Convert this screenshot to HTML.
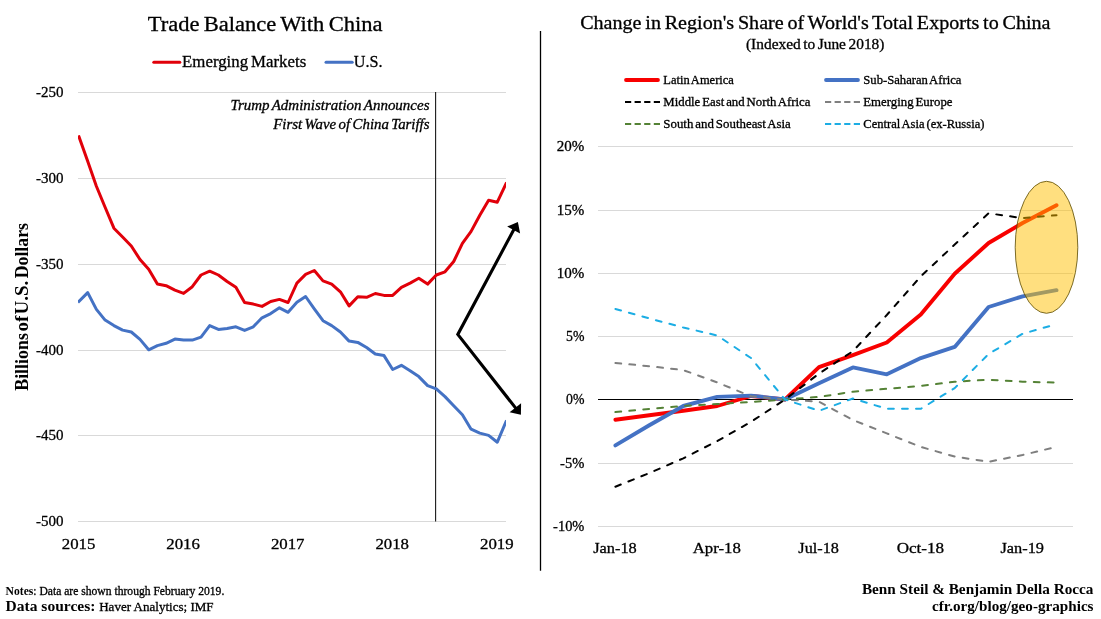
<!DOCTYPE html>
<html lang="en"><head><meta charset="utf-8"><title>Trade Balance With China</title>
<style>html,body{margin:0;padding:0;background:#fff}body{width:1101px;height:619px;overflow:hidden}svg{display:block}text{font-family:'Liberation Serif', serif;fill:#000;stroke:#000;stroke-width:.3px;word-spacing:-1.2px}.b{stroke-width:0}</style></head><body>
<svg width="1101" height="619" viewBox="0 0 1101 619">
<rect width="1101" height="619" fill="#fff"/>
<line x1="78" x2="506" y1="92.5" y2="92.5" stroke="#d9d9d9" stroke-width="1"/>
<line x1="78" x2="506" y1="178.5" y2="178.5" stroke="#d9d9d9" stroke-width="1"/>
<line x1="78" x2="506" y1="264.5" y2="264.5" stroke="#d9d9d9" stroke-width="1"/>
<line x1="78" x2="506" y1="350.5" y2="350.5" stroke="#d9d9d9" stroke-width="1"/>
<line x1="78" x2="506" y1="435.5" y2="435.5" stroke="#d9d9d9" stroke-width="1"/>
<line x1="78" x2="506" y1="521.5" y2="521.5" stroke="#d9d9d9" stroke-width="1"/>
<text x="63.6" y="97.4" font-size="15" text-anchor="end" textLength="27.5" lengthAdjust="spacingAndGlyphs" stroke-width="0.12">-250</text>
<text x="63.6" y="183.4" font-size="15" text-anchor="end" textLength="27.5" lengthAdjust="spacingAndGlyphs" stroke-width="0.12">-300</text>
<text x="63.6" y="269.4" font-size="15" text-anchor="end" textLength="27.5" lengthAdjust="spacingAndGlyphs" stroke-width="0.12">-350</text>
<text x="63.6" y="355.4" font-size="15" text-anchor="end" textLength="27.5" lengthAdjust="spacingAndGlyphs" stroke-width="0.12">-400</text>
<text x="63.6" y="440.4" font-size="15" text-anchor="end" textLength="27.5" lengthAdjust="spacingAndGlyphs" stroke-width="0.12">-450</text>
<text x="63.6" y="526.4" font-size="15" text-anchor="end" textLength="27.5" lengthAdjust="spacingAndGlyphs" stroke-width="0.12">-500</text>
<text x="78.6" y="548.8" font-size="15.4" text-anchor="middle" textLength="33.6" lengthAdjust="spacingAndGlyphs" stroke-width="0.10">2015</text>
<text x="183.1" y="548.8" font-size="15.4" text-anchor="middle" textLength="33.6" lengthAdjust="spacingAndGlyphs" stroke-width="0.10">2016</text>
<text x="287.7" y="548.8" font-size="15.4" text-anchor="middle" textLength="33.6" lengthAdjust="spacingAndGlyphs" stroke-width="0.10">2017</text>
<text x="392.2" y="548.8" font-size="15.4" text-anchor="middle" textLength="33.6" lengthAdjust="spacingAndGlyphs" stroke-width="0.10">2018</text>
<text x="496.8" y="548.8" font-size="15.4" text-anchor="middle" textLength="33.6" lengthAdjust="spacingAndGlyphs" stroke-width="0.10">2019</text>
<text x="147.8" y="30.8" font-size="20.8" textLength="234.7" lengthAdjust="spacingAndGlyphs" stroke-width="0.33">Trade Balance With China</text>
<line x1="153.8" x2="179.8" y1="62.3" y2="62.3" stroke="#e1000a" stroke-width="3" stroke-linecap="round"/>
<text x="182.1" y="66.6" font-size="17" textLength="124.1" lengthAdjust="spacingAndGlyphs" stroke-width="0.27">Emerging Markets</text>
<line x1="326" x2="352.2" y1="62.3" y2="62.3" stroke="#4472c4" stroke-width="3" stroke-linecap="round"/>
<text x="353.8" y="66.6" font-size="17" textLength="28.7" lengthAdjust="spacingAndGlyphs" stroke-width="0.27">U.S.</text>
<g transform="translate(28.1,390.8) rotate(-90)">
<text class="b" font-size="18.4" font-weight="bold" style="word-spacing:0"><tspan x="0" textLength="57.7" lengthAdjust="spacingAndGlyphs">Billions</tspan> <tspan x="59.3" textLength="15.9" lengthAdjust="spacingAndGlyphs">of</tspan> <tspan x="76.3" textLength="33.9" lengthAdjust="spacingAndGlyphs">U.S.</tspan> <tspan x="112.5" textLength="55.3" lengthAdjust="spacingAndGlyphs">Dollars</tspan></text>
</g>
<text x="429.5" y="109.7" font-size="13.9" text-anchor="end" textLength="199.1" lengthAdjust="spacingAndGlyphs" font-style="italic" stroke-width="0.05">Trump Administration Announces</text>
<text x="429.5" y="128.5" font-size="13.9" text-anchor="end" textLength="156.2" lengthAdjust="spacingAndGlyphs" font-style="italic" stroke-width="0.05">First Wave of China Tariffs</text>
<line x1="435.6" x2="435.6" y1="92" y2="521.5" stroke="#1a1a1a" stroke-width="1.1"/>
<clipPath id="lc"><rect x="78" y="90" width="428" height="433"/></clipPath><g clip-path="url(#lc)">
<polyline fill="none" stroke="#4472c4" stroke-width="3" stroke-linejoin="round" stroke-linecap="square" points="79.0,301.3 87.7,292.6 96.4,309.4 105.1,320.1 113.9,325.6 122.6,330.1 131.3,332.0 140.0,339.4 148.7,349.8 157.4,345.6 166.1,343.3 174.9,339.1 183.6,340.1 192.3,340.1 201.0,337.2 209.7,325.6 218.4,329.4 227.1,328.5 235.9,326.8 244.6,330.4 253.3,326.8 262.0,317.8 270.7,313.6 279.4,307.8 288.1,312.3 296.9,302.3 305.6,296.5 314.3,308.8 323.0,320.7 331.7,325.6 340.4,332.0 349.1,341.1 357.8,342.4 366.6,347.5 375.3,354.0 384.0,355.6 392.7,369.5 401.4,365.3 410.1,370.8 418.8,376.6 427.6,385.6 436.3,388.9 445.0,396.6 453.7,405.7 462.4,414.7 471.1,429.2 479.8,433.1 488.6,435.4 497.3,442.2 506.0,421.8"/>
<polyline fill="none" stroke="#e1000a" stroke-width="3" stroke-linejoin="round" stroke-linecap="square" points="79.0,136.8 87.7,161.3 96.4,186.2 105.1,207.2 113.9,228.2 122.6,237.0 131.3,246.0 140.0,259.5 148.7,269.2 157.4,284.1 166.1,285.7 174.9,290.2 183.6,293.4 192.3,286.7 201.0,275.0 209.7,271.2 218.4,275.0 227.1,281.5 235.9,287.3 244.6,302.5 253.3,304.1 262.0,306.4 270.7,301.5 279.4,299.4 288.1,302.5 296.9,283.1 305.6,274.4 314.3,270.5 323.0,280.9 331.7,284.1 340.4,291.8 349.1,305.9 357.8,296.7 366.6,297.3 375.3,293.5 384.0,295.4 392.7,295.4 401.4,287.3 410.1,283.1 418.8,278.3 427.6,284.1 436.3,275.0 445.0,271.8 453.7,261.5 462.4,243.4 471.1,231.4 479.8,215.3 488.6,200.3 497.3,202.2 506.0,183.8"/>
</g>
<polygon fill="#000" points="517.9,222.0 520.1,233.4 507.2,226.5"/>
<polygon fill="#000" points="520.9,414.8 509.6,412.2 521.1,403.2"/>
<polyline fill="none" stroke="#000" stroke-width="3.1" stroke-linejoin="miter" stroke-miterlimit="10" points="514.4,228.6 457.8,334.4 516.3,408.9"/>
<line x1="540.5" x2="540.5" y1="31" y2="570.8" stroke="#000" stroke-width="1.3"/>
<text x="5.6" y="594.6" font-size="11.6" textLength="218.7" lengthAdjust="spacingAndGlyphs" stroke-width="0.08" style="word-spacing:0"><tspan font-weight="bold" stroke-width="0">Notes</tspan>: Data are shown through February 2019.</text>
<text x="5.6" y="611.1" font-size="14.3" textLength="89.8" lengthAdjust="spacingAndGlyphs" font-weight="bold" class="b" style="word-spacing:0">Data sources:</text>
<text x="99.2" y="611.1" font-size="12.8" textLength="114.4" lengthAdjust="spacingAndGlyphs" style="word-spacing:0" stroke-width="0.10">Haver Analytics; IMF</text>
<line x1="598" x2="1073" y1="146.5" y2="146.5" stroke="#d9d9d9" stroke-width="1"/>
<line x1="598" x2="1073" y1="210.5" y2="210.5" stroke="#d9d9d9" stroke-width="1"/>
<line x1="598" x2="1073" y1="273.5" y2="273.5" stroke="#d9d9d9" stroke-width="1"/>
<line x1="598" x2="1073" y1="336.5" y2="336.5" stroke="#d9d9d9" stroke-width="1"/>
<line x1="598" x2="1073" y1="463.5" y2="463.5" stroke="#d9d9d9" stroke-width="1"/>
<line x1="598" x2="1073" y1="526.5" y2="526.5" stroke="#d9d9d9" stroke-width="1"/>
<text x="584.4" y="151.2" font-size="15" text-anchor="end" textLength="27.6" lengthAdjust="spacingAndGlyphs" stroke-width="0.12">20%</text>
<text x="584.4" y="215.2" font-size="15" text-anchor="end" textLength="27.6" lengthAdjust="spacingAndGlyphs" stroke-width="0.12">15%</text>
<text x="584.4" y="278.2" font-size="15" text-anchor="end" textLength="27.6" lengthAdjust="spacingAndGlyphs" stroke-width="0.12">10%</text>
<text x="584.4" y="341.2" font-size="15" text-anchor="end" textLength="18.4" lengthAdjust="spacingAndGlyphs" stroke-width="0.12">5%</text>
<text x="584.4" y="404.2" font-size="15" text-anchor="end" textLength="18.4" lengthAdjust="spacingAndGlyphs" stroke-width="0.12">0%</text>
<text x="584.4" y="468.2" font-size="15" text-anchor="end" textLength="24.3" lengthAdjust="spacingAndGlyphs" stroke-width="0.12">-5%</text>
<text x="584.4" y="531.2" font-size="15" text-anchor="end" textLength="31.3" lengthAdjust="spacingAndGlyphs" stroke-width="0.12">-10%</text>
<text x="615.0" y="552.9" font-size="15.4" text-anchor="middle" textLength="43.6" lengthAdjust="spacingAndGlyphs" stroke-width="0.08">Jan-18</text>
<text x="716.8" y="552.9" font-size="15.4" text-anchor="middle" textLength="48.2" lengthAdjust="spacingAndGlyphs" stroke-width="0.08">Apr-18</text>
<text x="818.6" y="552.9" font-size="15.4" text-anchor="middle" textLength="40.5" lengthAdjust="spacingAndGlyphs" stroke-width="0.08">Jul-18</text>
<text x="920.4" y="552.9" font-size="15.4" text-anchor="middle" textLength="47.5" lengthAdjust="spacingAndGlyphs" stroke-width="0.08">Oct-18</text>
<text x="1022.2" y="552.9" font-size="15.4" text-anchor="middle" textLength="43.6" lengthAdjust="spacingAndGlyphs" stroke-width="0.08">Jan-19</text>
<text x="580.2" y="28.7" font-size="19.5" textLength="470.3" lengthAdjust="spacingAndGlyphs" stroke-width="0.31">Change in Region's Share of World's Total Exports to China</text>
<text x="746.0" y="48.9" font-size="14.2" textLength="138.4" lengthAdjust="spacingAndGlyphs" stroke-width="0.23">(Indexed to June 2018)</text>
<line x1="626.0" x2="658.0" y1="80.0" y2="80.0" stroke="#f80000" stroke-width="3.8" stroke-linecap="round"/>
<text x="663.3" y="84.0" font-size="12.2" textLength="70.6" lengthAdjust="spacingAndGlyphs" stroke-width="0.14">Latin America</text>
<line x1="625.0" x2="660.2" y1="102.0" y2="102.0" stroke="#000000" stroke-width="2" stroke-dasharray="6.2 3.4"/>
<text x="663.3" y="106.0" font-size="12.2" textLength="147.1" lengthAdjust="spacingAndGlyphs" stroke-width="0.14">Middle East and North Africa</text>
<line x1="625.0" x2="660.2" y1="124.0" y2="124.0" stroke="#548235" stroke-width="2" stroke-dasharray="6.2 3.4"/>
<text x="663.3" y="127.6" font-size="12.2" textLength="127.5" lengthAdjust="spacingAndGlyphs" stroke-width="0.14">South and Southeast Asia</text>
<line x1="826.0" x2="858.0" y1="80.0" y2="80.0" stroke="#4472c4" stroke-width="3.8" stroke-linecap="round"/>
<text x="863.3" y="84.0" font-size="12.2" textLength="98.1" lengthAdjust="spacingAndGlyphs" stroke-width="0.14">Sub-Saharan Africa</text>
<line x1="825.0" x2="860.2" y1="102.0" y2="102.0" stroke="#7f7f7f" stroke-width="2" stroke-dasharray="6.2 3.4"/>
<text x="863.3" y="106.0" font-size="12.2" textLength="89.2" lengthAdjust="spacingAndGlyphs" stroke-width="0.14">Emerging Europe</text>
<line x1="825.0" x2="860.2" y1="124.0" y2="124.0" stroke="#1cade4" stroke-width="2" stroke-dasharray="6.2 3.4"/>
<text x="863.3" y="127.6" font-size="12.2" textLength="121.1" lengthAdjust="spacingAndGlyphs" stroke-width="0.14">Central Asia (ex-Russia)</text>
<line x1="598" x2="1073" y1="399.5" y2="399.5" stroke="#000" stroke-width="1.1"/>
<polyline fill="none" stroke="#f80000" stroke-width="3.9" stroke-linejoin="round" stroke-linecap="round" points="615.4,419.8 649.3,415.3 683.3,410.8 717.2,406.0 751.1,396.0 785.0,399.5 819.0,367.2 852.9,355.2 886.8,342.5 920.8,314.4 954.7,273.7 988.6,243.0 1022.6,223.0 1056.5,205.2"/>
<polyline fill="none" stroke="#4472c4" stroke-width="3.9" stroke-linejoin="round" stroke-linecap="round" points="615.4,445.4 649.3,425.3 683.3,406.0 717.2,396.9 751.1,395.6 785.0,399.5 819.0,383.3 852.9,367.4 886.8,374.3 920.8,358.1 954.7,346.9 988.6,307.0 1022.6,296.3 1056.5,290.2"/>
<polyline fill="none" stroke="#000000" stroke-width="2" stroke-linejoin="round" stroke-linecap="round" stroke-dasharray="5.8 8.2" points="615.4,486.7 649.3,473.1 683.3,458.3 717.2,441.1 751.1,421.8 785.0,399.5 819.0,373.6 852.9,351.2 886.8,315.0 920.8,276.3 954.7,244.6 988.6,213.3 1022.6,218.1 1056.5,215.2"/>
<polyline fill="none" stroke="#7f7f7f" stroke-width="2" stroke-linejoin="round" stroke-linecap="round" stroke-dasharray="5.8 8.2" points="615.4,363.0 649.3,366.2 683.3,370.1 717.2,382.4 751.1,396.3 785.0,399.5 819.0,401.7 852.9,420.0 886.8,433.4 920.8,446.9 954.7,456.6 988.6,461.8 1022.6,455.0 1056.5,446.9"/>
<polyline fill="none" stroke="#548235" stroke-width="2" stroke-linejoin="round" stroke-linecap="round" stroke-dasharray="5.8 8.2" points="615.4,412.1 649.3,408.9 683.3,405.9 717.2,404.0 751.1,402.0 785.0,399.5 819.0,396.9 852.9,391.7 886.8,388.8 920.8,385.9 954.7,381.7 988.6,379.7 1022.6,381.7 1056.5,382.6"/>
<polyline fill="none" stroke="#1cade4" stroke-width="2" stroke-linejoin="round" stroke-linecap="round" stroke-dasharray="5.8 8.2" points="615.4,309.0 649.3,318.4 683.3,327.5 717.2,335.5 751.1,358.1 785.0,399.5 819.0,410.8 852.9,398.5 886.8,408.8 920.8,408.8 954.7,388.1 988.6,354.0 1022.6,333.8 1056.5,324.1"/>
<ellipse cx="1046.5" cy="247.3" rx="31.3" ry="66.0" fill="#ffc000" fill-opacity="0.5" stroke="#5a4a00" stroke-width="0.8"/>
<text x="1093.5" y="593.5" font-size="14.6" text-anchor="end" textLength="231.6" lengthAdjust="spacingAndGlyphs" font-weight="bold" class="b" style="word-spacing:0">Benn Steil &amp; Benjamin Della Rocca</text>
<text x="1093.5" y="610.6" font-size="14.6" text-anchor="end" textLength="161.4" lengthAdjust="spacingAndGlyphs" font-weight="bold" class="b">cfr.org/blog/geo-graphics</text>
</svg></body></html>
